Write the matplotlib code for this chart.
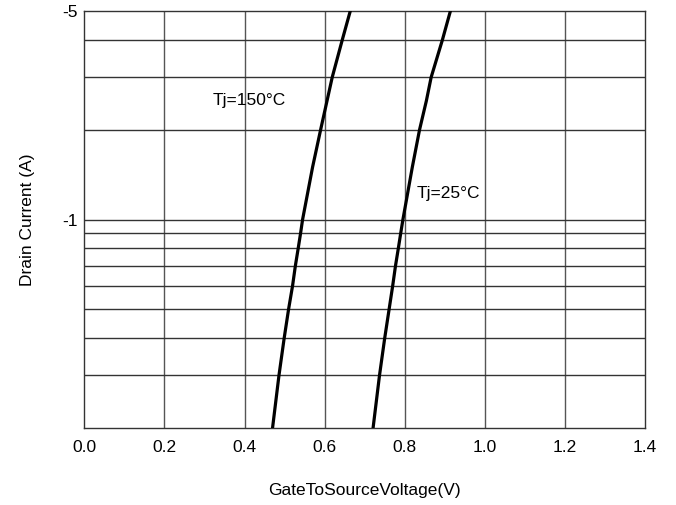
import matplotlib
matplotlib.use('Agg')

import matplotlib.pyplot as plt

plt.rcParams['font.family'] = ['Liberation Sans', 'DejaVu Sans']

# Drain current magnitude (A), plotted on a log axis; labels show negative sign
current = [0.2, 0.3, 0.4, 0.5, 0.6, 0.7, 0.8, 0.9, 1.0, 1.5, 2.0, 2.5, 3.0, 4.0, 5.0]
vgs_150 = [0.470, 0.486, 0.499, 0.510, 0.520, 0.527, 0.534, 0.540, 0.545,
           0.570, 0.590, 0.606, 0.619, 0.644, 0.664]
vgs_25 = [0.721, 0.737, 0.750, 0.761, 0.770, 0.777, 0.784, 0.790, 0.7955,
          0.819, 0.837, 0.854, 0.866, 0.894, 0.914]

x_ticks = [0.0, 0.2, 0.4, 0.6, 0.8, 1.0, 1.2, 1.4]
y_grid = [0.3, 0.4, 0.5, 0.6, 0.7, 0.8, 0.9, 1.0, 2.0, 3.0, 4.0]
y_ticks = [1.0, 5.0]
y_tick_labels = ["-1", "-5"]

fig = plt.figure(figsize=(6.76, 5.05), dpi=100)
ax = fig.add_axes([0.1247, 0.1525, 0.8295, 0.8255])

ax.set_yscale('log')
ax.set_xlim(0.0, 1.4)
ax.set_ylim(0.2, 5.0)

# grid lines
for x in x_ticks[1:-1]:
    ax.axvline(x, color='#555555', linewidth=1.0, zorder=1)
for y in y_grid:
    ax.axhline(y, color='#333333', linewidth=1.0, zorder=1)

ax.plot(vgs_150, current, color='black', linewidth=2.3, zorder=3,
        solid_joinstyle='round')
ax.plot(vgs_25, current, color='black', linewidth=2.3, zorder=3,
        solid_joinstyle='round')

ax.text(0.321, 2.5, "Tj=150°C", fontsize=12.5, ha='left', va='center')
ax.text(0.829, 1.22, "Tj=25°C", fontsize=12.5, ha='left', va='center')

ax.set_xticks(x_ticks)
ax.set_xticklabels([f"{v:.1f}" for v in x_ticks])
ax.yaxis.set_minor_locator(matplotlib.ticker.NullLocator())
ax.set_yticks(y_ticks)
ax.set_yticklabels(y_tick_labels)
ax.tick_params(axis='both', length=0, labelsize=12.5)
ax.tick_params(axis='x', pad=9)
ax.tick_params(axis='y', pad=5)

for spine in ax.spines.values():
    spine.set_color('#333333')
    spine.set_linewidth(1.0)

ax.set_xlabel("GateToSourceVoltage(V)", fontsize=12.5, labelpad=20)
ax.set_ylabel("Drain Current (A)", fontsize=12.5, labelpad=19)

fig.savefig("out.png", dpi=100)
plt.close(fig)
